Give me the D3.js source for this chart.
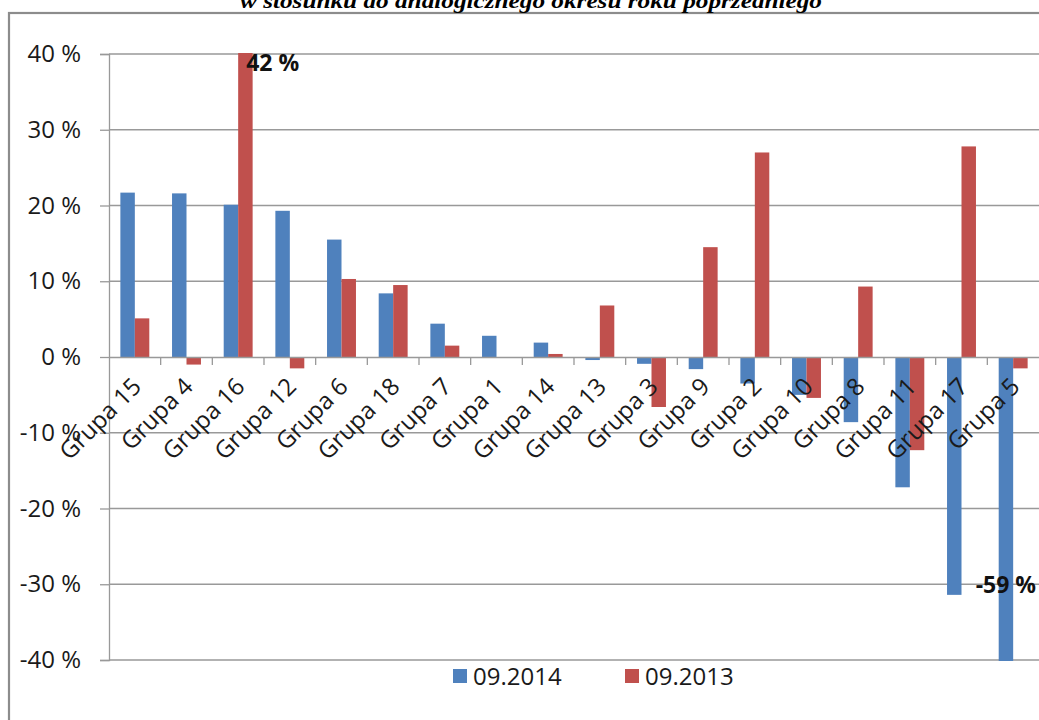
<!DOCTYPE html>
<html>
<head>
<meta charset="utf-8">
<script src="https://cdn.jsdelivr.net/npm/d3@7"></script>
<style>
  html, body { margin: 0; padding: 0; background: #fff; }
  svg { display: block; }
</style>
</head>
<body>
<svg id="chart" width="1039" height="720"></svg>
<script>
// Groups, sorted by the 09.2014 change
const categories = ["Grupa 15", "Grupa 4", "Grupa 16", "Grupa 12", "Grupa 6", "Grupa 18",
  "Grupa 7", "Grupa 1", "Grupa 14", "Grupa 13", "Grupa 3", "Grupa 9", "Grupa 2",
  "Grupa 10", "Grupa 8", "Grupa 11", "Grupa 17", "Grupa 5"];
const seriesNames = ["09.2014", "09.2013"];
const values2014 = [21.7, 21.6, 20.1, 19.3, 15.5, 8.4, 4.4, 2.8, 1.9, -0.4, -0.9, -1.6, -3.5,
  -5.0, -8.6, -17.2, -31.4, -59];
const values2013 = [5.1, -1.0, 42, -1.5, 10.3, 9.5, 1.5, 0, 0.4, 6.8, -6.6, 14.5, 27.0,
  -5.4, 9.3, -12.3, 27.8, -1.5];
const yTicks = [40, 30, 20, 10, 0, -10, -20, -30, -40];
// Values printed next to bars that run off the axis range
const callouts = [
  { series: "09.2013", category: "Grupa 16", value: 42 },
  { series: "09.2014", category: "Grupa 5", value: -59 }
];
const colors = { "09.2014": "#4F81BD", "09.2013": "#C0504D" };
const title = "w stosunku do analogicznego okresu roku poprzedniego";

const svg = d3.select("#chart");
const font = "'Open Sans', Lato, sans-serif";

const plot = { left: 109, right: 1039, top: 54, bottom: 660 };

const x0 = d3.scaleBand().domain(categories)
  .range([plot.left, plot.right]).paddingInner(0.44).paddingOuter(0.22);
const x1 = d3.scaleBand().domain(seriesNames).range([0, x0.bandwidth()]).padding(0);
const y = d3.scaleLinear().domain([-40, 40]).range([plot.bottom, plot.top]);

// Percent labels with a plain hyphen for negatives
const fmt = v => String(v) + " %";

// Outer frame
svg.append("rect")
  .attr("x", 9).attr("y", 13).attr("width", 1100).attr("height", 800)
  .attr("fill", "none").attr("stroke", "#8c8c8c").attr("stroke-width", 2.2);

// Title, running off the top edge
svg.append("text")
  .attr("x", 531).attr("y", 8)
  .attr("text-anchor", "middle")
  .attr("textLength", 582).attr("lengthAdjust", "spacingAndGlyphs")
  .style("font-family", "'Liberation Serif', 'Times New Roman', serif")
  .style("font-weight", "bold").style("font-style", "italic")
  .style("font-size", "22px")
  .text(title);

// Horizontal gridlines and y-axis
const yAxis = d3.axisLeft(y).tickValues(yTicks).tickSize(9).tickPadding(19).tickFormat(fmt);
const yG = svg.append("g").attr("transform", `translate(${plot.left},0)`).call(yAxis);
yG.select(".domain").attr("stroke", "#999").attr("stroke-width", 1.3);
yG.selectAll(".tick line").attr("stroke", "#999").attr("stroke-width", 1.3);
yG.selectAll(".tick text")
  .attr("fill", "#1a1a1a")
  .style("font-family", font).style("font-size", "24px");

svg.append("g").selectAll("line.grid")
  .data(yTicks.filter(d => d !== 0))
  .join("line")
  .attr("x1", plot.left).attr("x2", plot.right)
  .attr("y1", d => y(d)).attr("y2", d => y(d))
  .attr("stroke", "#999").attr("stroke-width", 1.3);

// Bars
svg.append("clipPath").attr("id", "plotClip")
  .append("rect")
  .attr("x", plot.left).attr("y", plot.top - 1)
  .attr("width", plot.right - plot.left).attr("height", plot.bottom - plot.top + 2);

const barData = [];
categories.forEach((c, i) => {
  barData.push({ category: c, series: "09.2014", value: values2014[i] });
  barData.push({ category: c, series: "09.2013", value: values2013[i] });
});

svg.append("g").attr("clip-path", "url(#plotClip)")
  .selectAll("rect")
  .data(barData.filter(d => d.value !== 0))
  .join("rect")
  .attr("x", d => x0(d.category) + x1(d.series))
  .attr("width", x1.bandwidth())
  .attr("y", d => y(Math.max(0, d.value)))
  .attr("height", d => Math.abs(y(d.value) - y(0)))
  .attr("fill", d => colors[d.series]);

// Category axis at zero
const xAxis = d3.axisBottom(x0).tickSize(0).tickFormat("");
const xG = svg.append("g").attr("transform", `translate(0,${y(0)})`).call(xAxis);
xG.select(".domain").attr("stroke", "#999").attr("stroke-width", 1.3);

const step = x0.step();
svg.append("g").selectAll("line")
  .data(categories.slice(1))
  .join("line")
  .attr("x1", d => x0(d) - x0.paddingInner() * step / 2)
  .attr("x2", d => x0(d) - x0.paddingInner() * step / 2)
  .attr("y1", y(0)).attr("y2", y(0) + 8)
  .attr("stroke", "#999").attr("stroke-width", 1.3);

// Rotated category labels
svg.append("g").selectAll("text")
  .data(categories)
  .join("text")
  .attr("transform", d => `translate(${x0(d) + x0.bandwidth() / 2 + 8},${y(0) + 31}) rotate(-45)`)
  .attr("text-anchor", "end")
  .attr("fill", "#1a1a1a")
  .style("font-family", font).style("font-size", "24px")
  .text(d => d);

// Value callouts
svg.append("g").selectAll("text")
  .data(callouts)
  .join("text")
  .attr("x", d => d.value > 0
    ? x0(d.category) + x1(d.series) + 8
    : x0(d.category) + x1(d.series) - 23)
  .attr("y", d => d.value > 0 ? y(40) + 17 : y(-30) + 9)
  .attr("fill", "#111")
  .style("font-family", font).style("font-weight", "bold").style("font-size", "23px")
  .text(d => fmt(d.value));

// Legend
const legend = svg.append("g");
const legendX = [453, 625];
seriesNames.forEach((s, i) => {
  legend.append("rect")
    .attr("x", legendX[i]).attr("y", 669).attr("width", 14).attr("height", 14)
    .attr("fill", colors[s]);
  legend.append("text")
    .attr("x", legendX[i] + 20).attr("y", 685)
    .attr("fill", "#1a1a1a")
    .style("font-family", font).style("font-size", "24px")
    .text(s);
});
</script>
</body>
</html>
